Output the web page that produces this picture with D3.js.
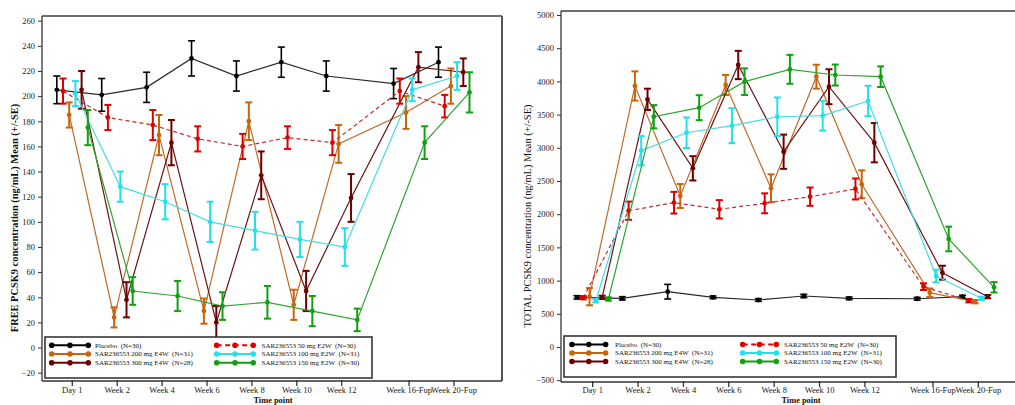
<!DOCTYPE html>
<html>
<head>
<meta charset="utf-8">
<script src="https://cdn.jsdelivr.net/npm/d3@7"></script>
<style>
  html, body { margin: 0; padding: 0; background: #ffffff; }
  svg { display: block; font-family: "Liberation Serif", "Times New Roman", serif; }
</style>
</head>
<body>
<svg id="chart" width="1015" height="405"></svg>
<script>
// ---- data ---------------------------------------------------------------
const timepoints = ["Day 1", "Week 2", "Week 4", "Week 6", "Week 8", "Week 10", "Week 12", "Week 16-Fup", "Week 20-Fup"];

const groupNames = [
  "Placebo  (N=30)",
  "SAR236553 50 mg E2W  (N=30)",
  "SAR236553 200 mg E4W  (N=31)",
  "SAR236553 100 mg E2W  (N=31)",
  "SAR236553 300 mg E4W  (N=28)",
  "SAR236553 150 mg E2W  (N=30)"
];

// Free PCSK9 (ng/mL): mean and SE per visit
const freePlacebo   = [205, 201, 207, 230, 216, 227, 216, 210, 227];
const freePlaceboSE = [11, 13, 12, 14, 12, 12, 12, 12, 12];
const free50        = [204, 183, 177, 166, 160, 167, 163, 204, 192];
const free50SE      = [10, 10, 12, 10, 10, 9, 10, 10, 9];
const free200       = [185, 24, 169, 29, 180, 34, 162, 187, 208];
const free200SE     = [10, 8, 16, 10, 15, 12, 15, 13, 14];
const free100       = [202, 128, 116, 100, 93, 86, 80, 205, 216];
const free100SE     = [10, 12, 14, 16, 15, 14, 15, 9, 11];
const free300       = [205, 38, 163, 20, 137, 45, 119, 223, 219];
const free300SE     = [15, 14, 18, 13, 19, 16, 19, 12, 11];
const free150       = [175, 45, 41, 33, 36, 29, 22, 163, 203];
const free150SE     = [14, 11, 12, 11, 13, 12, 9, 13, 16];

// Total PCSK9 (ng/mL): mean and SE per visit
const totalPlacebo   = [748, 733, 833, 748, 708, 768, 733, 727, 758];
const totalPlaceboSE = [25, 25, 110, 20, 20, 25, 20, 20, 20];
const total50        = [742, 2053, 2173, 2074, 2164, 2264, 2380, 908, 697];
const total50SE      = [25, 137, 163, 138, 150, 138, 158, 50, 25];
const total200       = [758, 3931, 2274, 3946, 2390, 4071, 2450, 818, 682];
const total200SE     = [130, 220, 180, 150, 210, 180, 210, 63, 25];
const total100       = [697, 2956, 3227, 3333, 3468, 3484, 3705, 1069, 733];
const total100SE     = [25, 220, 230, 263, 290, 225, 230, 95, 25];
const total300       = [748, 3730, 2691, 4247, 2941, 3920, 3077, 1119, 758];
const total300SE     = [25, 160, 183, 213, 258, 263, 296, 105, 25];
const total150       = [723, 3468, 3604, 3996, 4182, 4096, 4071, 1627, 899];
const total150SE     = [25, 175, 188, 200, 218, 158, 155, 186, 78];

const freeTicks  = d3.range(-20, 261, 20);
const totalTicks = d3.range(-500, 5001, 500);

// ---- styles -------------------------------------------------------------
// one entry per group, same order as groupNames
const styles = [
  { bar: "#000000", line: "#2a2a2a", dash: null,  barW: 1.6 },
  { bar: "#dd0000", line: "#c42a2a", dash: "4,3", barW: 2 },
  { bar: "#c8640a", line: "#c06a2a", dash: null,  barW: 2 },
  { bar: "#22e0ee", line: "#45dce6", dash: null,  barW: 2 },
  { bar: "#6e0000", line: "#6a1414", dash: null,  barW: 2 },
  { bar: "#10a010", line: "#2ea42e", dash: null,  barW: 2 }
];
const dodge = [-2.5, -1.5, -0.5, 0.5, 1.5, 2.5];   // horizontal offset slot per group
const drawOrder = [0, 2, 4, 1, 3, 5];
const legendCols = [[0, 2, 4], [1, 3, 5]];
const slot = [0, 1, 2, 3, 4, 5, 6, 7.5, 8.5];     // follow-up visits sit after a gap

const svg = d3.select("#chart");

function drawPanel(cfg) {
  const g = svg.append("g");
  const x = d3.scaleLinear().domain([0, 8.5]).range(cfg.slotRange);
  const y = d3.scaleLinear().domain(cfg.yDomain).range(cfg.yRange);
  const dx = cfg.dodgePx;

  // frame
  g.append("line").attr("x1", cfg.x0).attr("x2", cfg.x1).attr("y1", cfg.yTop).attr("y2", cfg.yTop)
    .attr("stroke", "#6e6e6e").attr("stroke-width", 2);
  if (cfg.rightBorder) {
    g.append("line").attr("x1", cfg.x1).attr("x2", cfg.x1).attr("y1", cfg.yTop).attr("y2", cfg.yBottom)
      .attr("stroke", "#555").attr("stroke-width", 2);
  }

  // y axis
  const yAxis = d3.axisLeft(y).tickValues(cfg.ticks).tickSize(4).tickPadding(3).tickFormat(d3.format("d"));
  const ya = g.append("g").attr("transform", `translate(${cfg.x0},0)`).call(yAxis);
  ya.select(".domain").remove();
  ya.append("line").attr("x1", 0).attr("x2", 0).attr("y1", cfg.yTop).attr("y2", cfg.yBottom)
    .attr("stroke", "#333").attr("stroke-width", 1.3);
  ya.selectAll(".tick line").attr("stroke", "#333");
  ya.selectAll(".tick text").attr("font-size", 8.5).attr("fill", "#222")
    .attr("font-family", "Liberation Serif, serif");

  // x axis
  const xa = g.append("g").attr("transform", `translate(0,${cfg.yBottom})`);
  xa.append("line").attr("x1", cfg.x0).attr("x2", cfg.x1).attr("y1", 0).attr("y2", 0)
    .attr("stroke", "#333").attr("stroke-width", 1.3);
  const xt = xa.selectAll("g.xt").data(timepoints).join("g").attr("class", "xt")
    .attr("transform", (d, i) => `translate(${x(slot[i])},0)`);
  xt.append("line").attr("y1", -1).attr("y2", 5).attr("stroke", "#333").attr("stroke-width", 1.3);
  xt.append("text").attr("y", cfg.tickLabelY).attr("text-anchor", "middle").attr("font-size", 8.5)
    .attr("fill", "#222").text(d => d);

  g.append("text").attr("x", cfg.xTitleX).attr("y", 402.6).attr("text-anchor", "middle")
    .attr("font-size", 8.4).attr("font-weight", "bold").attr("fill", "#111").text("Time point");

  g.append("text").attr("transform", `translate(${cfg.yTitleX},${cfg.yTitleY}) rotate(-90)`)
    .attr("text-anchor", "middle").attr("font-size", 10.4)
    .attr("font-weight", cfg.yTitleBold ? "bold" : "normal").attr("fill", "#111").text(cfg.yTitle);

  // series
  const line = d3.line().x(d => d.x).y(d => d.y);
  drawOrder.forEach(k => {
    const st = styles[k];
    const pts = cfg.means[k].map((m, i) => ({ x: x(slot[i]) + dodge[k] * dx, m, se: cfg.ses[k][i] }));
    pts.forEach(p => { p.y = y(p.m); });
    const sg = g.append("g");
    sg.append("path").attr("d", line(pts)).attr("fill", "none").attr("stroke", st.line)
      .attr("stroke-width", 1.2).attr("stroke-dasharray", st.dash);
    const eb = sg.selectAll("g.eb").data(pts).join("g").attr("class", "eb")
      .attr("stroke", st.bar).attr("stroke-width", st.barW);
    eb.append("line").attr("x1", p => p.x).attr("x2", p => p.x)
      .attr("y1", p => y(p.m + p.se)).attr("y2", p => y(p.m - p.se));
    eb.append("line").attr("x1", p => p.x - 3.5).attr("x2", p => p.x + 3.5)
      .attr("y1", p => y(p.m + p.se)).attr("y2", p => y(p.m + p.se));
    eb.append("line").attr("x1", p => p.x - 3.5).attr("x2", p => p.x + 3.5)
      .attr("y1", p => y(p.m - p.se)).attr("y2", p => y(p.m - p.se));
    sg.selectAll("circle").data(pts).join("circle").attr("cx", p => p.x).attr("cy", p => p.y)
      .attr("r", 2.4).attr("fill", st.bar);
  });

  // legend
  const L = cfg.legend;
  const lg = g.append("g");
  lg.append("rect").attr("x", L.x).attr("y", L.y).attr("width", L.w).attr("height", L.h)
    .attr("fill", "#ffffff").attr("stroke", "#2a2a2a").attr("stroke-width", 1.5);
  legendCols.forEach((col, c) => {
    col.forEach((k, r) => {
      const st = styles[k];
      const yy = L.rows[r];
      const mx = L.x + L.colX[c];
      lg.append("line").attr("x1", mx).attr("x2", mx + 2 * L.step).attr("y1", yy).attr("y2", yy)
        .attr("stroke", st.bar).attr("stroke-width", 2).attr("stroke-dasharray", st.dash ? "5,3.5" : null);
      [0, 1, 2].forEach(j => {
        lg.append("circle").attr("cx", mx + j * L.step).attr("cy", yy).attr("r", 2.8).attr("fill", st.bar);
      });
      lg.append("text").attr("x", L.x + L.textX[c]).attr("y", yy + 2.4).attr("font-size", 7)
        .attr("fill", "#111").style("white-space", "pre").text(groupNames[k]);
    });
  });
}

drawPanel({
  x0: 42, x1: 502, yTop: 16, yBottom: 381, rightBorder: true, tickLabelY: 11.8,
  slotRange: [72.3, 454.0], dodgePx: 6.2,
  yDomain: [-20, 260], yRange: [372.7, 20.7], ticks: freeTicks,
  yTitle: "FREE PCSK9 concentration (ng/mL) Mean (+/-SE)", yTitleBold: true, yTitleX: 18, yTitleY: 218,
  xTitleX: 273,
  means: [freePlacebo, free50, free200, free100, free300, free150],
  ses: [freePlaceboSE, free50SE, free200SE, free100SE, free300SE, free150SE],
  legend: { x: 45, y: 337, w: 327, h: 41, rows: [345.3, 354, 362.7], colX: [6.7, 171.7], step: 18.3, textX: [50, 216.5] }
});

drawPanel({
  x0: 561, x1: 1015, yTop: 11, yBottom: 382, rightBorder: false, tickLabelY: 10.8,
  slotRange: [592.7, 978.3], dodgePx: 6.3,
  yDomain: [-500, 5000], yRange: [380.2, 15], ticks: totalTicks,
  yTitle: "TOTAL PCSK9 concentration (ng/mL) Mean (+/-SE)", yTitleBold: false, yTitleX: 531, yTitleY: 216,
  xTitleX: 801,
  means: [totalPlacebo, total50, total200, total100, total300, total150],
  ses: [totalPlaceboSE, total50SE, total200SE, total100SE, total300SE, total150SE],
  legend: { x: 564, y: 336, w: 332, h: 41, rows: [344.5, 353, 361.5], colX: [8, 178.7], step: 16.8, textX: [51, 220] }
});
</script>
</body>
</html>
